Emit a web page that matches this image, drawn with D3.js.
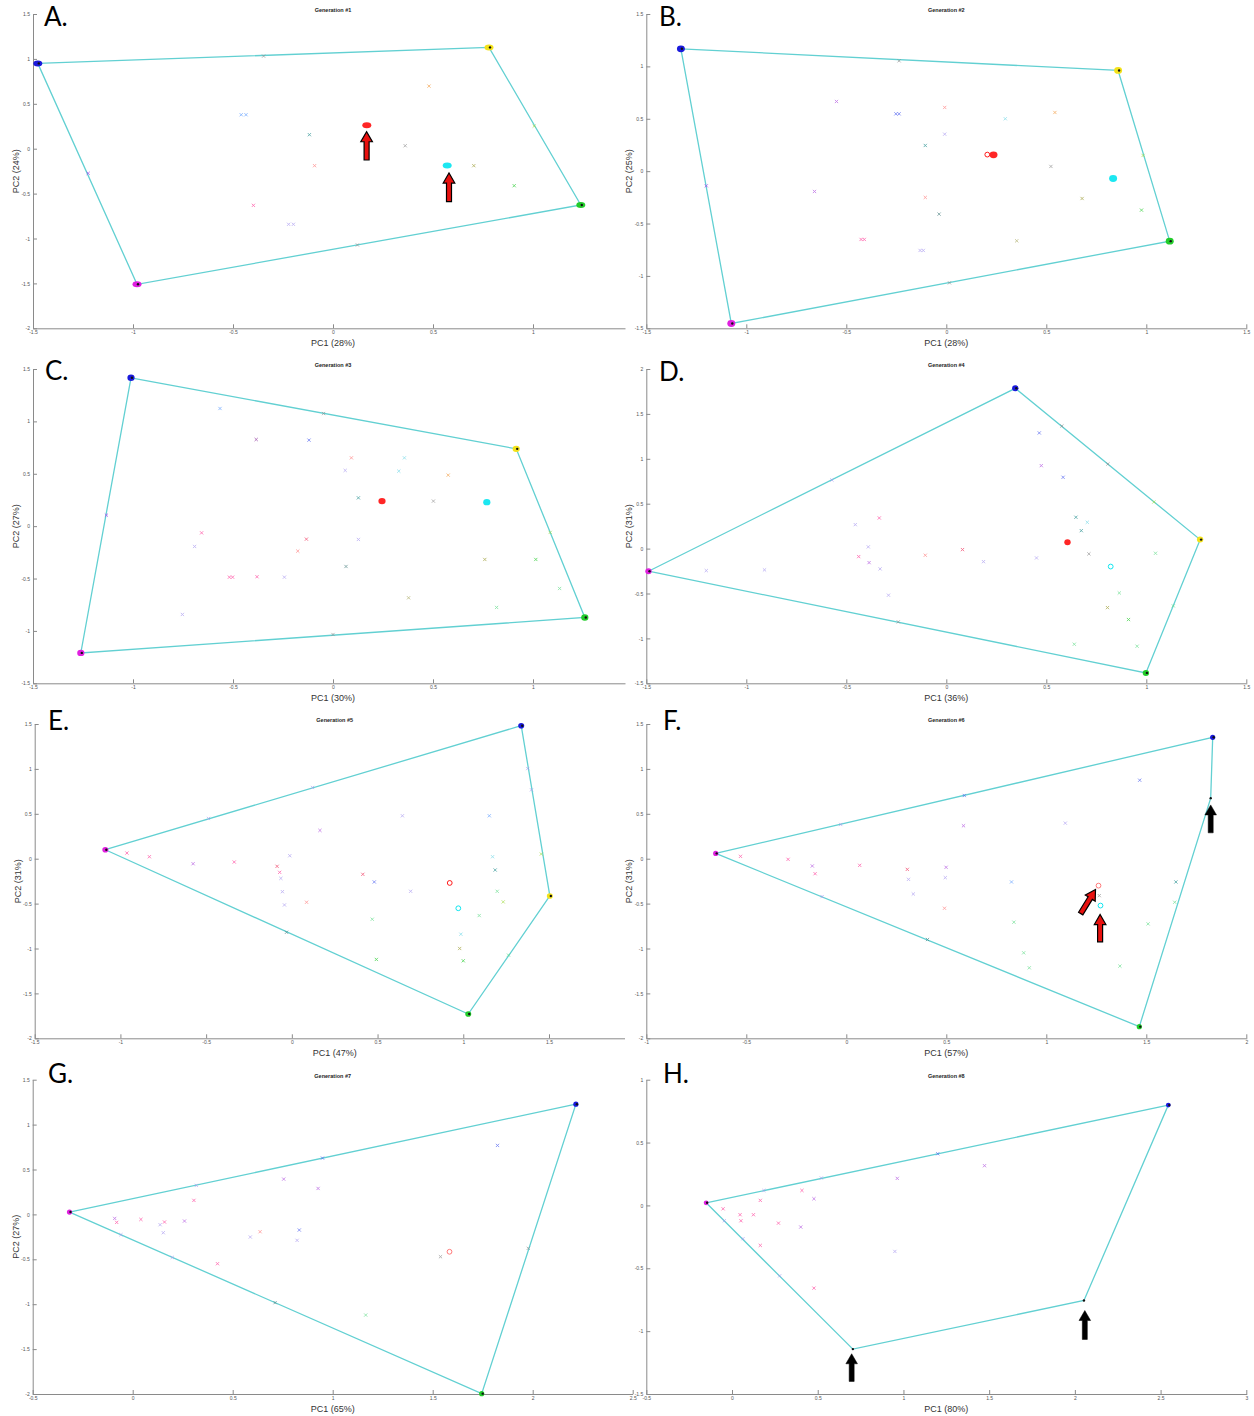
<!DOCTYPE html>
<meta charset="utf-8" />
<style>
  body { margin: 0; background: #fff; }
  text { font-family: "Liberation Sans", Arial, sans-serif; }
</style>
<svg width="1254" height="1416"></svg>
<script src="https://cdnjs.cloudflare.com/ajax/libs/d3/7.8.5/d3.min.js"></script>
<script>
// panel labels and axis texts
var letters = ["A.", "B.", "C.", "D.", "E.", "F.", "G.", "H."];
var titles = ["Generation #1", "Generation #2", "Generation #3", "Generation #4",
              "Generation #5", "Generation #6", "Generation #7", "Generation #8"];
var pc1 = ["PC1 (28%)", "PC1 (28%)", "PC1 (30%)", "PC1 (36%)", "PC1 (47%)", "PC1 (57%)", "PC1 (65%)", "PC1 (80%)"];
var pc2 = ["PC2 (24%)", "PC2 (25%)", "PC2 (27%)", "PC2 (31%)", "PC2 (31%)", "PC2 (31%)", "PC2 (27%)", ""];
var xLims = [[-1.5, 1.5], [-1.5, 1.5], [-1.5, 1.5], [-1.5, 1.5], [-1.5, 2], [-1, 2], [-0.5, 2.5], [-0.5, 3]];
var yLims = [[-2, 1.5], [-1.5, 1.5], [-1.5, 1.5], [-1.5, 2], [-2, 1.5], [-2, 1.5], [-2, 1.5], [-1.5, 1]];

// hull vertices (cluster centres): [pc1, pc2, colour]
var hullA = [[-1.476, 0.95, "blue"], [0.78, 1.128, "yellow"], [1.239, -0.627, "green"], [-0.98, -1.51, "magenta"]];
var hullB = [[-1.327, 1.168, "blue"], [0.859, 0.961, "yellow"], [1.117, -0.668, "green"], [-1.075, -1.454, "magenta"]];
var hullC = [[-1.01, 1.416, "blue"], [0.916, 0.738, "yellow"], [1.259, -0.872, "green"], [-1.261, -1.21, "magenta"]];
var hullD = [[-1.489, -0.252, "magenta"], [0.345, 1.785, "blue"], [1.269, 0.1, "yellow"], [0.998, -1.384, "green"]];
var hullE = [[-1.088, 0.1, "magenta"], [1.338, 1.481, "blue"], [1.505, -0.415, "yellow"], [1.029, -1.73, "green"]];
var hullF = [[-0.653, 0.059, "magenta"], [1.832, 1.352, "blue"], [1.822, 0.674, "black"], [1.465, -1.87, "green"]];
var hullG = [[-0.316, 0.026, "magenta"], [2.216, 1.228, "blue"], [1.745, -1.996, "green"]];
var hullH = [[-0.151, 0.021, "magenta"], [2.545, 0.798, "blue"], [2.053, -0.756, "black"], [0.705, -1.143, "black"]];

// other individuals: [pc1, pc2, colour, marker]  x = cross, f = filled cluster, o = open circle
var ptsA = [
  [-0.347, 1.031, "gray", "x"], [0.48, 0.697, "orange", "x"], [-0.459, 0.378, "lblue", "x"], [-0.435, 0.378, "lblue", "x"],
  [-0.118, 0.156, "teal", "x"], [0.169, 0.26, "red", "f"], [0.361, 0.033, "gray", "x"], [-0.092, -0.189, "salmon", "x"],
  [0.571, -0.186, "cyan", "f"], [0.704, -0.189, "olive", "x"], [1.006, 0.252, "ygreen", "x"], [0.906, -0.412, "green", "x"],
  [-1.224, -0.274, "purple", "x"], [-0.398, -0.631, "pink", "x"], [-0.222, -0.842, "lav", "x"], [-0.198, -0.842, "lav", "x"],
  [0.122, -1.072, "gray", "x"]
];
var ptsB = [
  [-0.236, 1.053, "gray", "x"], [-0.549, 0.665, "violet", "x"], [-0.252, 0.547, "blue2", "x"], [-0.236, 0.547, "blue2", "x"],
  [-0.008, 0.608, "salmon", "x"], [0.543, 0.56, "orange", "x"], [0.295, 0.5, "lcyan", "x"], [-0.008, 0.353, "lav", "x"],
  [-0.105, 0.245, "teal", "x"], [0.236, 0.156, "red", "f"], [0.205, 0.158, "red", "o"], [0.523, 0.045, "gray", "x"],
  [0.984, 0.15, "ygreen", "x"], [0.834, -0.07, "cyan", "f"], [-1.2, -0.14, "purple", "x"], [-0.659, -0.194, "violet", "x"],
  [-0.105, -0.251, "salmon", "x"], [-0.036, -0.41, "tealgray", "x"], [0.679, -0.261, "olive", "x"], [0.976, -0.372, "green", "x"],
  [-0.426, -0.652, "pink", "x"], [-0.41, -0.652, "pink", "x"], [-0.131, -0.757, "lav", "x"], [-0.115, -0.757, "lav", "x"],
  [0.352, -0.665, "olive2", "x"], [0.016, -1.066, "gray", "x"]
];
var ptsC = [
  [-0.565, 1.123, "lblue", "x"], [-0.047, 1.075, "gray", "x"], [-0.384, 0.827, "dpurple", "x"], [-0.12, 0.821, "blue2", "x"],
  [0.092, 0.652, "salmon", "x"], [0.357, 0.652, "lcyan", "x"], [0.061, 0.532, "lav", "x"], [0.329, 0.525, "lcyan", "x"],
  [0.576, 0.487, "orange", "x"], [0.127, 0.27, "teal", "x"], [0.245, 0.239, "red", "f"], [0.502, 0.239, "gray", "x"],
  [0.769, 0.229, "cyan", "f"], [-1.133, 0.105, "purple", "x"], [-0.657, -0.064, "pink", "x"], [-0.692, -0.194, "lav", "x"],
  [-0.133, -0.124, "red2", "x"], [0.127, -0.127, "lav", "x"], [-0.176, -0.238, "salmon", "x"], [0.065, -0.385, "tealgray", "x"],
  [0.759, -0.318, "olive", "x"], [1.014, -0.318, "green", "x"], [1.086, -0.06, "ygreen", "x"], [-0.518, -0.487, "pink", "x"],
  [-0.502, -0.487, "pink", "x"], [-0.38, -0.483, "pink", "x"], [-0.243, -0.487, "lav", "x"], [1.133, -0.595, "lgreen", "x"],
  [0.378, -0.684, "olive2", "x"], [0.818, -0.776, "lgreen", "x"], [-0.753, -0.843, "lav", "x"], [0, -1.034, "gray", "x"]
];
var ptsD = [
  [-0.572, 0.764, "lav", "x"], [0.465, 1.288, "blue2", "x"], [0.578, 1.365, "gray", "x"], [0.475, 0.924, "violet", "x"],
  [0.584, 0.794, "blue2", "x"], [0.808, 0.942, "gray", "x"], [1.038, 0.519, "ygreen", "x"], [-0.455, 0.267, "lav", "x"],
  [-0.335, 0.341, "pink", "x"], [-0.39, 0.019, "lav", "x"], [-0.438, -0.089, "pink", "x"], [-0.386, -0.156, "violet", "x"],
  [-0.331, -0.226, "lav", "x"], [-0.105, -0.074, "salmon", "x"], [0.081, -0.011, "red2", "x"], [0.186, -0.145, "lav", "x"],
  [0.451, -0.104, "lav", "x"], [0.648, 0.349, "teal", "x"], [0.705, 0.293, "lcyan", "x"], [0.675, 0.2, "teal", "x"],
  [0.606, 0.07, "red", "f"], [0.713, -0.059, "gray", "x"], [0.822, -0.2, "cyan", "o"], [1.046, -0.052, "lgreen", "x"],
  [-1.2, -0.245, "lav", "x"], [-0.909, -0.237, "lav", "x"], [-0.289, -0.519, "lav", "x"], [-0.24, -0.816, "gray", "x"],
  [0.865, -0.494, "lgreen", "x"], [0.806, -0.657, "olive", "x"], [0.911, -0.79, "green", "x"], [1.135, -0.638, "lgreen", "x"],
  [0.64, -1.065, "lgreen", "x"], [0.954, -1.087, "lgreen", "x"]
];
var ptsE = [
  [-0.486, 0.448, "lav", "x"], [0.121, 0.793, "lav", "x"], [1.376, 1.004, "lav", "x"], [1.398, 0.767, "lav", "x"],
  [1.455, 0.052, "ygreen", "x"], [-0.962, 0.063, "pink", "x"], [-0.831, 0.022, "pink", "x"], [-0.576, -0.056, "violet", "x"],
  [-0.336, -0.037, "pink", "x"], [-0.086, -0.085, "red2", "x"], [-0.071, -0.152, "pink", "x"], [-0.064, -0.219, "lav", "x"],
  [-0.012, 0.033, "lav", "x"], [0.164, 0.315, "violet", "x"], [0.645, 0.478, "lav", "x"], [-0.055, -0.367, "lav", "x"],
  [-0.043, -0.515, "lav", "x"], [0.086, -0.485, "salmon", "x"], [0.414, -0.174, "red2", "x"], [0.481, -0.259, "blue2", "x"],
  [0.693, -0.363, "lav", "x"], [0.921, -0.27, "red", "o"], [0.971, -0.552, "cyan", "o"], [-0.031, -0.819, "tealgray", "x"],
  [0.469, -0.674, "lgreen", "x"], [0.493, -1.122, "green", "x"], [1.152, 0.478, "lblue", "x"], [1.171, 0.022, "lcyan", "x"],
  [1.186, -0.126, "teal", "x"], [1.198, -0.363, "lgreen", "x"], [1.233, -0.481, "ygreen", "x"], [1.093, -0.633, "lgreen", "x"],
  [0.986, -0.841, "lcyan", "x"], [0.979, -1.0, "olive", "x"], [1.0, -1.137, "green", "x"], [1.264, -1.074, "lgreen", "x"]
];
var ptsF = [
  [-0.028, 0.381, "lav", "x"], [0.59, 0.704, "blue2", "x"], [1.467, 0.874, "blue2", "x"], [0.586, 0.367, "violet", "x"],
  [1.095, 0.396, "lav", "x"], [-0.529, 0.026, "pink", "x"], [-0.291, -0.007, "pink", "x"], [-0.17, -0.081, "violet", "x"],
  [-0.156, -0.167, "pink", "x"], [0.067, -0.074, "pink", "x"], [0.305, -0.119, "red2", "x"], [0.311, -0.23, "lav", "x"],
  [0.499, -0.096, "violet", "x"], [0.495, -0.211, "lav", "x"], [0.335, -0.393, "lav", "x"], [-0.121, -0.422, "lav", "x"],
  [0.826, -0.259, "lblue", "x"], [0.491, -0.552, "salmon", "x"], [1.261, -0.3, "salmon", "o"], [1.265, -0.411, "gray", "x"],
  [1.271, -0.522, "cyan", "o"], [1.648, -0.259, "teal", "x"], [1.642, -0.485, "lgreen", "x"], [1.509, -0.726, "lgreen", "x"],
  [0.838, -0.707, "lgreen", "x"], [0.406, -0.9, "tealgray", "x"], [0.887, -1.048, "lgreen", "x"], [0.915, -1.215, "lgreen", "x"],
  [1.368, -1.196, "lgreen", "x"]
];
var ptsG = [
  [0.318, 0.323, "lav", "x"], [0.949, 0.627, "blue2", "x"], [1.824, 0.768, "blue2", "x"], [0.755, 0.393, "violet", "x"],
  [0.927, 0.289, "violet", "x"], [0.306, 0.156, "pink", "x"], [-0.09, -0.045, "violet", "x"], [-0.08, -0.089, "pink", "x"],
  [0.041, -0.056, "pink", "x"], [0.137, -0.115, "lav", "x"], [0.159, -0.085, "pink", "x"], [0.259, -0.074, "violet", "x"],
  [0.153, -0.204, "lav", "x"], [-0.059, -0.226, "lav", "x"], [0.637, -0.193, "salmon", "x"], [0.588, -0.252, "lav", "x"],
  [0.833, -0.174, "blue2", "x"], [0.822, -0.289, "lav", "x"], [0.198, -0.479, "lav", "x"], [0.424, -0.549, "pink", "x"],
  [1.584, -0.416, "salmon", "o"], [1.539, -0.471, "gray", "x"], [1.978, -0.378, "gray", "x"], [0.712, -0.983, "tealgray", "x"],
  [1.165, -1.121, "lgreen", "x"]
];
var ptsH = [
  [0.186, 0.119, "lav", "x"], [0.521, 0.218, "lav", "x"], [1.2, 0.411, "blue2", "x"], [1.473, 0.316, "violet", "x"],
  [0.964, 0.215, "violet", "x"], [0.408, 0.119, "pink", "x"], [0.165, 0.04, "pink", "x"], [0.478, 0.053, "violet", "x"],
  [-0.052, -0.027, "pink", "x"], [-0.045, -0.122, "lav", "x"], [0.047, -0.074, "pink", "x"], [0.052, -0.122, "pink", "x"],
  [0.125, -0.074, "pink", "x"], [0.271, -0.141, "pink", "x"], [0.401, -0.172, "violet", "x"], [0.064, -0.265, "lav", "x"],
  [0.165, -0.318, "pink", "x"], [0.95, -0.366, "lav", "x"], [0.278, -0.56, "lav", "x"], [0.478, -0.658, "pink", "x"]
];

// annotation arrows: [tail pc1, tail pc2, tip pc1, tip pc2, colour]
var arrowsA = [[0.168, -0.126, 0.168, 0.189, "red"], [0.58, -0.59, 0.58, -0.271, "red"]];
var arrowsF = [[1.822, 0.288, 1.822, 0.599, "black"], [1.172, -0.611, 1.246, -0.344, "red"], [1.269, -0.926, 1.269, -0.622, "red"]];
var arrowsH = [[0.698, -1.4, 0.698, -1.18, "black"], [2.058, -1.066, 2.058, -0.836, "black"]];

var hulls = [hullA, hullB, hullC, hullD, hullE, hullF, hullG, hullH];
var points = [ptsA, ptsB, ptsC, ptsD, ptsE, ptsF, ptsG, ptsH];
var arrows = [arrowsA, [], [], [], [], arrowsF, [], arrowsH];

var colours = {
  blue: "#1a1adc", yellow: "#f3e21a", green: "#22cc2a", magenta: "#e020e0", red: "#ff1a1a", cyan: "#10e6f0",
  black: "#222222", gray: "#8c8c8c", orange: "#f39a3c", lblue: "#5b9cff", blue2: "#4a5cf0", teal: "#1e8c8c",
  tealgray: "#4a8080", salmon: "#ff7a7a", pink: "#ff3d9a", red2: "#f0305a", olive: "#9a9a30", olive2: "#a8a860",
  ygreen: "#a0dc40", lgreen: "#60dc88", purple: "#9a30f0", dpurple: "#8a2a9a", violet: "#b050e0", lav: "#a898f0",
  lcyan: "#70d8e8"
};

// page layout (pixels)
var lefts = [33, 646.3, 33, 646.3, 34.7, 646.3, 32.7, 646.3];
var tops = [14, 14, 369, 369, 724, 724, 1079.7, 1079.7];
var visRight = [625, 1246.8, 625, 1246.8, 624.5, 1246.8, 632.7, 1246.8];
var letterPos = [[44, 26], [659, 26], [45, 380], [659, 381], [48, 730], [663, 730], [48, 1083], [663, 1083]];
var clusterR = [[4.5, 3], [4, 3.4], [3.6, 3.2], [3.2, 3], [3, 2.8], [2.6, 2.6], [2.6, 2.6], [2.4, 2.4]];
var AXW = 600, AXH = 314.3;

var svg = d3.select("svg");

function drawArrow(g, x1, y1, x2, y2, fill) {
  var dx = x2 - x1, dy = y2 - y1, L = Math.hypot(dx, dy);
  var ux = dx / L, uy = dy / L, nx = -uy, ny = ux;
  var sw = 2.5, hw = 5.8, hl = 10;
  var bx = x2 - ux * hl, by = y2 - uy * hl;
  var p = [[x1 + nx * sw, y1 + ny * sw], [bx + nx * sw, by + ny * sw], [bx + nx * hw, by + ny * hw], [x2, y2],
           [bx - nx * hw, by - ny * hw], [bx - nx * sw, by - ny * sw], [x1 - nx * sw, y1 - ny * sw]];
  g.append("polygon")
    .attr("points", p.map(function (d) { return d.join(","); }).join(" "))
    .attr("fill", fill === "red" ? "#e8110f" : "#000")
    .attr("stroke", "#000")
    .attr("stroke-width", fill === "red" ? 1.2 : 0.5)
    .attr("stroke-linejoin", "miter");
}

letters.forEach(function (lab, i) {
  var g = svg.append("g");
  var x = d3.scaleLinear().domain(xLims[i]).range([lefts[i], lefts[i] + AXW]);
  var y = d3.scaleLinear().domain(yLims[i]).range([tops[i] + AXH, tops[i]]);
  var xv = x.copy().domain([xLims[i][0], x.invert(visRight[i])]).range([lefts[i], visRight[i]]);
  var bottom = tops[i] + AXH;

  var xt = d3.range(xLims[i][0], xLims[i][1] + 1e-9, 0.5).filter(function (v) { return x(v) <= visRight[i] + 0.5; });
  var yt = d3.range(yLims[i][0], yLims[i][1] + 1e-9, 0.5);
  var fmt = function (v) { return String(Math.round(v * 10) / 10); };

  var gx = g.append("g").attr("transform", "translate(0," + bottom + ")")
    .call(d3.axisBottom(xv).tickValues(xt).tickFormat(fmt).tickSizeInner(-4).tickSizeOuter(0).tickPadding(2.5));
  var gy = g.append("g").attr("transform", "translate(" + lefts[i] + ",0)")
    .call(d3.axisLeft(y).tickValues(yt).tickFormat(fmt).tickSizeInner(-4).tickSizeOuter(0).tickPadding(3));
  [gx, gy].forEach(function (a) {
    a.select(".domain").attr("stroke", "#8a8a8a").attr("stroke-width", 1);
    a.selectAll(".tick line").attr("stroke", "#8a8a8a");
    a.selectAll(".tick text").attr("fill", "#555").style("font-size", "5px").style("font-family", "Liberation Sans, Arial, sans-serif");
  });

  // titles and labels
  var cx = x((xLims[i][0] + xLims[i][1]) / 2);
  g.append("text").attr("x", cx).attr("y", tops[i] - 2).attr("text-anchor", "middle")
    .style("font-size", "5.5px").style("font-weight", "bold").attr("fill", "#222").text(titles[i]);
  g.append("text").attr("x", cx).attr("y", bottom + 18).attr("text-anchor", "middle")
    .style("font-size", "9px").attr("fill", "#333").text(pc1[i]);
  if (pc2[i]) {
    g.append("text").attr("transform", "translate(" + (lefts[i] - 14) + "," + (tops[i] + AXH / 2) + ") rotate(-90)")
      .attr("text-anchor", "middle").style("font-size", "9px").attr("fill", "#333").text(pc2[i]);
  }
  g.append("text").attr("x", letterPos[i][0]).attr("y", letterPos[i][1])
    .style("font-family", "Lato, 'Open Sans', sans-serif").style("font-size", "26px").attr("fill", "#000").text(lab);

  // convex hull outline
  var hull = hulls[i];
  var line = d3.line().x(function (d) { return x(d[0]); }).y(function (d) { return y(d[1]); });
  g.append("path").datum(hull.concat([hull[0]])).attr("d", line)
    .attr("fill", "none").attr("stroke", "#62d0d2").attr("stroke-width", 1.3);

  // scattered individuals
  var pts = points[i];
  var crosses = pts.filter(function (d) { return d[3] === "x"; });
  var cs = 1.6;
  g.append("g").selectAll("path").data(crosses).enter().append("path")
    .attr("d", function (d) {
      var px = x(d[0]), py = y(d[1]);
      return "M" + (px - cs) + "," + (py - cs) + "L" + (px + cs) + "," + (py + cs) +
             "M" + (px - cs) + "," + (py + cs) + "L" + (px + cs) + "," + (py - cs);
    })
    .attr("stroke", function (d) { return colours[d[2]]; })
    .attr("stroke-width", 0.9).attr("opacity", 0.7);

  g.append("g").selectAll("circle").data(pts.filter(function (d) { return d[3] === "o"; })).enter().append("circle")
    .attr("cx", function (d) { return x(d[0]); }).attr("cy", function (d) { return y(d[1]); })
    .attr("r", 2.4).attr("fill", "none").attr("stroke", function (d) { return colours[d[2]]; }).attr("stroke-width", 1);

  var cr = clusterR[i];
  g.append("g").selectAll("ellipse").data(pts.filter(function (d) { return d[3] === "f"; })).enter().append("ellipse")
    .attr("cx", function (d) { return x(d[0]); }).attr("cy", function (d) { return y(d[1]); })
    .attr("rx", cr[0]).attr("ry", cr[1]).attr("fill", function (d) { return colours[d[2]]; }).attr("opacity", 0.95);

  // hull vertex clusters
  var hv = g.append("g").selectAll("g").data(hull).enter().append("g");
  hv.filter(function (d) { return d[2] !== "black"; }).append("ellipse")
    .attr("cx", function (d) { return x(d[0]); }).attr("cy", function (d) { return y(d[1]); })
    .attr("rx", cr[0]).attr("ry", cr[1]).attr("fill", function (d) { return colours[d[2]]; });
  hv.append("circle")
    .attr("cx", function (d) { return x(d[0]) + (d[2] === "black" ? 0 : 1); })
    .attr("cy", function (d) { return y(d[1]); })
    .attr("r", 1.2).attr("fill", "#111");

  arrows[i].forEach(function (a) {
    drawArrow(g, x(a[0]), y(a[1]), x(a[2]), y(a[3]), a[4]);
  });
});
</script>
